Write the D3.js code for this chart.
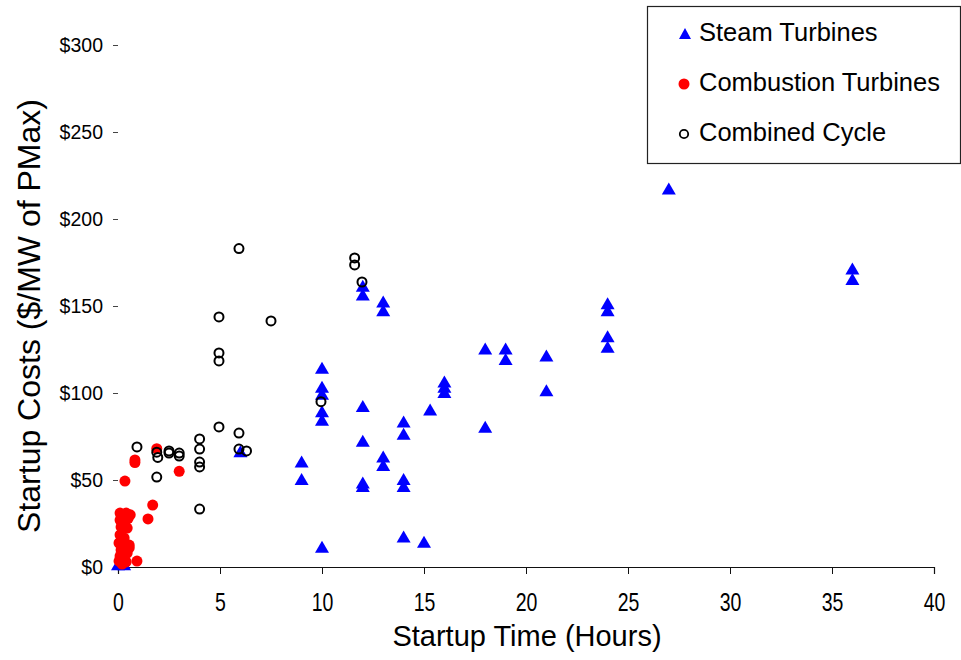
<!DOCTYPE html>
<html lang="en">
<head>
<meta charset="utf-8">
<title>startup costs</title>
<script src="https://cdn.jsdelivr.net/npm/d3@7"></script>
<style>
  body { margin: 0; background: #fff; }
  text { font-family: "Liberation Sans", Arial, sans-serif; fill: #000; }
</style>
</head>
<body>
<script>
// startup time (hours) and cost ($/MW of PMax)
var steamHours = [27, 36, 36, 24, 24, 24, 24, 21, 21, 19, 19, 18, 18, 16, 16, 16, 15.3, 15,
                  14, 14, 14, 14, 14, 13, 13, 13, 13, 12, 12, 12, 12, 12, 12,
                  10, 10, 10, 10, 10, 10, 9, 9, 6, 0, 0.3];
var steamCost  = [217, 171, 165, 151, 147, 132, 126, 121, 101, 125, 119, 125, 80, 106, 103, 100, 90, 14,
                  83, 76, 50, 46, 17, 152, 147, 63, 58, 161, 156, 92, 72, 48, 46,
                  114, 103, 99, 89, 84, 11, 60, 50, 66, 1, 1];

var combHours = [1.9, 0.83, 0.83, 0.34, 3.0, 1.7, 1.47, 0.93,
                 0.1, 0.4, 0.25, 0.5, 0.1, 0.35, 0.15, 0.45, 0.1, 0.3,
                 0.05, 0.25, 0.55, 0.15, 0.45, 0.1, 0.3, 0.05, 0.4, 0.2, 0.6, 0.55];
var combCost  = [68, 61.5, 60, 49.4, 55, 35.6, 27.6, 3.4,
                 31, 31, 30, 28, 27, 26, 23, 22.4, 18.4, 16.7,
                 13.8, 12.6, 12.6, 9.8, 8, 6.3, 4.6, 3.4, 2.9, 1.7, 30, 11];

var ccHours = [0.93, 1.9, 1.95, 2.5, 2.5, 3.0, 3.0, 4, 4, 4, 4, 1.9, 4, 4.95,
               5.93, 5.93, 6.3, 5.93, 4.95, 7.5, 4.95, 4.95, 11.6, 11.6, 11.96, 9.95];
var ccCost  = [69, 66, 63, 66.7, 65.5, 65.5, 63.8, 73.6, 67.8, 60.3, 57.5, 51.7, 33.3, 80.5,
               77, 67.8, 66.7, 183, 143.7, 141.4, 123, 118.4, 177.6, 173.6, 163.8, 95];

var xTicks = [0, 5, 10, 15, 20, 25, 30, 35, 40];
var yTicks = [0, 50, 100, 150, 200, 250, 300];
var seriesNames = ["Steam Turbines", "Combustion Turbines", "Combined Cycle"];

var w = 961, h = 660;
var svg = d3.select("body").append("svg")
    .attr("width", w)
    .attr("height", h);

var x = d3.scaleLinear().domain([0, 40]).range([118, 934]);
var y = d3.scaleLinear().domain([0, 300]).range([567, 45]);

// axes
var xaxis = d3.axisBottom(x).tickValues(xTicks).tickSize(7).tickPadding(19)
    .tickFormat(d3.format("d"));
var gx = svg.append("g")
    .attr("transform", "translate(0,567)")
    .call(xaxis);
gx.select(".domain").attr("stroke", "#111").attr("stroke-width", 1.2);
gx.selectAll(".tick line").attr("stroke", "#111");
gx.selectAll(".tick text")
    .style("font-size", "25px")
    .attr("transform", "scale(0.78,1)");

var yaxis = d3.axisLeft(y).tickValues(yTicks).tickSize(5).tickPadding(10)
    .tickFormat(function(d) { return "$" + d; });
var gy = svg.append("g")
    .attr("transform", "translate(118,0)")
    .call(yaxis);
gy.select(".domain").remove();
gy.selectAll(".tick line").attr("stroke", "#444");
gy.selectAll(".tick text").style("font-size", "19.5px");

// titles
svg.append("text")
    .attr("x", 527).attr("y", 646)
    .attr("text-anchor", "middle")
    .style("font-size", "29px")
    .text("Startup Time (Hours)");

svg.append("text")
    .attr("transform", "translate(40,316) rotate(-90)")
    .attr("text-anchor", "middle")
    .style("font-size", "32px")
    .text("Startup Costs ($/MW of PMax)");

// markers
var tri = "M0,-7L7,5L-7,5Z";

svg.append("g").selectAll("path")
    .data(steamHours)
    .enter()
    .append("path")
    .attr("d", tri)
    .attr("fill", "#0000ff")
    .attr("transform", function(d, i) {
        return "translate(" + x(d) + "," + y(steamCost[i]) + ")";
    });

svg.append("g").selectAll("circle")
    .data(combHours)
    .enter()
    .append("circle")
    .attr("cx", function(d) { return x(d); })
    .attr("cy", function(d, i) { return y(combCost[i]); })
    .attr("r", 5.5)
    .attr("fill", "#ff0000");

svg.append("g").selectAll("circle")
    .data(ccHours)
    .enter()
    .append("circle")
    .attr("cx", function(d) { return x(d); })
    .attr("cy", function(d, i) { return y(ccCost[i]); })
    .attr("r", 4.5)
    .attr("fill", "none")
    .attr("stroke", "#000")
    .attr("stroke-width", 2);

// legend
var legend = svg.append("g");
legend.append("rect")
    .attr("x", 647.5).attr("y", 6.5)
    .attr("width", 313).attr("height", 157)
    .attr("fill", "#fff")
    .attr("stroke", "#222")
    .attr("stroke-width", 1.2);

var rows = legend.selectAll("g.item")
    .data(seriesNames)
    .enter()
    .append("g")
    .attr("class", "item")
    .attr("transform", function(d, i) { return "translate(0," + (32 + i * 50) + ")"; });

rows.append("text")
    .attr("x", 699).attr("y", 9)
    .style("font-size", "25.5px")
    .text(function(d) { return d; });

rows.each(function(d, i) {
    var g = d3.select(this);
    if (i === 0) {
        g.append("path").attr("d", "M0,-6L6,5L-6,5Z")
            .attr("transform", "translate(685,2)")
            .attr("fill", "#0000ff");
    } else if (i === 1) {
        g.append("circle").attr("cx", 684).attr("cy", 2).attr("r", 5.5)
            .attr("fill", "#ff0000");
    } else {
        g.append("circle").attr("cx", 684).attr("cy", 2).attr("r", 4.2)
            .attr("fill", "none").attr("stroke", "#000").attr("stroke-width", 1.8);
    }
});
</script>
</body>
</html>
